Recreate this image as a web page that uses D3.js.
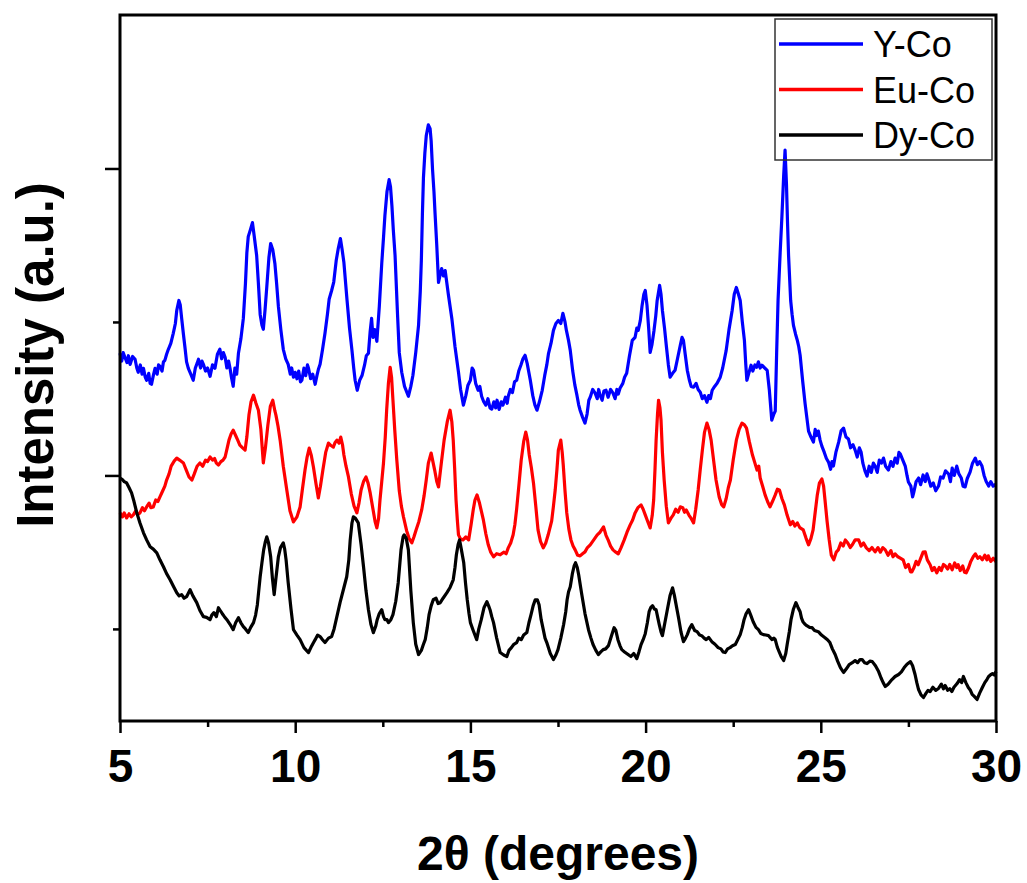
<!DOCTYPE html>
<html>
<head>
<meta charset="utf-8">
<script src="https://cdn.jsdelivr.net/npm/d3@7"></script>
<style>
  body { margin: 0; background: #fff; }
  svg { display: block; font-family: 'Liberation Sans', Arial, sans-serif; }
</style>
</head>
<body>
<div id="root"></div>
<script>
const width = 1027;
const height = 883;

// Data (2θ in degrees, intensity in counts)

const seriesNames = ['Y-Co', 'Eu-Co', 'Dy-Co'];
const colors = ['#0000ff', '#ff0000', '#000000'];

const xMajorTicks = [5, 10, 15, 20, 25, 30];
const xMinorTicks = [7.5, 12.5, 17.5, 22.5, 27.5];
const yMajorTicks = [2000, 4000];
const yMinorTicks = [1000, 3000];

const yCo = [
  [5.00, 2796], [5.05, 2745], [5.09, 2800], [5.14, 2770], [5.20, 2735], [5.24, 2780], [5.29, 2724], [5.36, 2775],
  [5.43, 2757], [5.48, 2700], [5.52, 2672], [5.58, 2720], [5.63, 2660], [5.67, 2698], [5.72, 2640], [5.76, 2620],
  [5.82, 2665], [5.86, 2600], [5.90, 2594], [5.95, 2650], [6.00, 2698], [6.06, 2660], [6.10, 2720], [6.14, 2711],
  [6.20, 2680], [6.24, 2740], [6.28, 2750], [6.33, 2790], [6.38, 2822], [6.45, 2860], [6.52, 2926], [6.58, 2990],
  [6.62, 3075], [6.68, 3140], [6.72, 3110], [6.76, 3023], [6.81, 2920], [6.86, 2822], [6.90, 2740], [6.95, 2698],
  [7.02, 2660], [7.09, 2620], [7.15, 2700], [7.20, 2730], [7.24, 2757], [7.30, 2700], [7.34, 2745], [7.38, 2724],
  [7.44, 2680], [7.50, 2700], [7.57, 2646], [7.64, 2720], [7.71, 2698], [7.78, 2790], [7.85, 2822], [7.90, 2760],
  [7.95, 2800], [8.00, 2770], [8.05, 2700], [8.10, 2745], [8.14, 2698], [8.18, 2640], [8.23, 2581], [8.28, 2700],
  [8.33, 2660], [8.38, 2796], [8.45, 2890], [8.52, 3023], [8.58, 3250], [8.62, 3450], [8.66, 3556], [8.72, 3600],
  [8.78, 3647], [8.83, 3560], [8.90, 3433], [8.95, 3250], [9.00, 3049], [9.05, 2980], [9.09, 2952], [9.14, 3080],
  [9.19, 3231], [9.25, 3420], [9.30, 3511], [9.36, 3470], [9.42, 3381], [9.47, 3250], [9.52, 3101], [9.59, 2950],
  [9.66, 2822], [9.73, 2760], [9.80, 2724], [9.86, 2660], [9.90, 2700], [9.95, 2640], [10.00, 2672], [10.05, 2630],
  [10.10, 2680], [10.15, 2610], [10.19, 2620], [10.25, 2700], [10.30, 2650], [10.35, 2720], [10.38, 2698], [10.44, 2630],
  [10.50, 2660], [10.57, 2594], [10.62, 2650], [10.66, 2690], [10.71, 2724], [10.78, 2820], [10.85, 2926], [10.92, 3050],
  [10.97, 3150], [11.04, 3205], [11.10, 3260], [11.17, 3400], [11.23, 3480], [11.29, 3543], [11.34, 3470], [11.39, 3387],
  [11.48, 3140], [11.55, 2960], [11.62, 2815], [11.67, 2700], [11.71, 2620], [11.77, 2555], [11.84, 2620], [11.91, 2653],
  [11.98, 2720], [12.03, 2780], [12.09, 2796], [12.14, 2940], [12.18, 3023], [12.22, 2900], [12.27, 2950], [12.33, 2874],
  [12.40, 3100], [12.47, 3381], [12.52, 3550], [12.56, 3693], [12.62, 3850], [12.68, 3927], [12.72, 3880], [12.76, 3758],
  [12.80, 3600], [12.85, 3433], [12.92, 3050], [12.97, 2800], [13.04, 2672], [13.12, 2580], [13.23, 2516], [13.30, 2580],
  [13.36, 2653], [13.44, 2800], [13.52, 2978], [13.57, 3200], [13.60, 3400], [13.63, 3700], [13.66, 3940], [13.70, 4100],
  [13.74, 4213], [13.80, 4284], [13.85, 4260], [13.88, 4180], [13.92, 3992], [13.96, 3850], [13.99, 3712], [14.04, 3500],
  [14.09, 3257], [14.13, 3300], [14.18, 3348], [14.23, 3300], [14.28, 3335], [14.37, 3180], [14.47, 3023], [14.56, 2840],
  [14.66, 2672], [14.72, 2560], [14.80, 2458], [14.87, 2520], [14.93, 2588], [15.00, 2620], [15.05, 2700], [15.09, 2685],
  [15.15, 2600], [15.22, 2555], [15.27, 2580], [15.32, 2516], [15.38, 2480], [15.44, 2458], [15.50, 2500], [15.56, 2440],
  [15.61, 2432], [15.67, 2480], [15.72, 2440], [15.76, 2490], [15.82, 2430], [15.88, 2480], [15.93, 2458], [16.00, 2510],
  [16.05, 2470], [16.08, 2516], [16.14, 2560], [16.20, 2540], [16.26, 2610], [16.32, 2620], [16.38, 2680], [16.44, 2718],
  [16.50, 2760], [16.56, 2783], [16.62, 2730], [16.71, 2620], [16.78, 2520], [16.84, 2460], [16.90, 2425], [16.97, 2480],
  [17.05, 2555], [17.12, 2650], [17.18, 2720], [17.23, 2796], [17.30, 2860], [17.37, 2945], [17.44, 2990], [17.51, 3010],
  [17.58, 2990], [17.64, 3056], [17.70, 3000], [17.74, 2945], [17.80, 2880], [17.85, 2815], [17.92, 2680], [17.98, 2590],
  [18.04, 2523], [18.09, 2460], [18.13, 2425], [18.20, 2380], [18.27, 2341], [18.33, 2400], [18.38, 2490], [18.42, 2510],
  [18.49, 2560], [18.56, 2536], [18.62, 2500], [18.66, 2560], [18.70, 2523], [18.76, 2490], [18.81, 2550], [18.87, 2555],
  [18.93, 2510], [19.00, 2560], [19.07, 2536], [19.13, 2500], [19.18, 2560], [19.22, 2530], [19.27, 2568], [19.35, 2600],
  [19.40, 2640], [19.46, 2666], [19.54, 2780], [19.62, 2880], [19.70, 2900], [19.75, 2960], [19.79, 2945], [19.85, 3010],
  [19.90, 3108], [19.95, 3180], [19.99, 3205], [20.04, 3108], [20.09, 2950], [20.13, 2802], [20.18, 2850], [20.24, 2945],
  [20.29, 3040], [20.33, 3140], [20.40, 3238], [20.44, 3180], [20.48, 3075], [20.54, 2960], [20.59, 2848], [20.65, 2720],
  [20.70, 2640], [20.77, 2665], [20.84, 2685], [20.91, 2760], [20.99, 2848], [21.04, 2900], [21.08, 2880], [21.13, 2790],
  [21.19, 2685], [21.25, 2620], [21.30, 2580], [21.37, 2575], [21.44, 2600], [21.50, 2560], [21.56, 2542], [21.62, 2500],
  [21.68, 2520], [21.75, 2477], [21.80, 2520], [21.85, 2500], [21.90, 2555], [21.97, 2580], [22.04, 2600], [22.13, 2640],
  [22.20, 2700], [22.30, 2815], [22.38, 2950], [22.47, 3075], [22.53, 3180], [22.59, 3225], [22.65, 3180], [22.70, 3140],
  [22.76, 3000], [22.82, 2880], [22.86, 2720], [22.89, 2620], [22.95, 2670], [23.01, 2718], [23.06, 2680], [23.12, 2720],
  [23.17, 2705], [23.22, 2740], [23.27, 2700], [23.32, 2718], [23.40, 2700], [23.47, 2685], [23.53, 2560], [23.60, 2360],
  [23.66, 2400], [23.70, 2419], [23.74, 2800], [23.78, 3140], [23.84, 3450], [23.89, 3686], [23.94, 3950], [23.98, 4120],
  [24.02, 3900], [24.05, 3650], [24.08, 3433], [24.14, 3140], [24.18, 3050], [24.22, 2978], [24.28, 2920], [24.33, 2880],
  [24.37, 2840], [24.41, 2783], [24.48, 2620], [24.55, 2471], [24.60, 2380], [24.65, 2289], [24.72, 2250], [24.79, 2217],
  [24.84, 2300], [24.88, 2260], [24.93, 2289], [24.98, 2230], [25.03, 2191], [25.10, 2150], [25.16, 2110], [25.22, 2087],
  [25.28, 2040], [25.32, 2090], [25.36, 2061], [25.43, 2150], [25.51, 2217], [25.58, 2290], [25.65, 2308], [25.72, 2250],
  [25.79, 2237], [25.85, 2180], [25.92, 2200], [25.98, 2165], [26.04, 2120], [26.10, 2180], [26.15, 2152], [26.20, 2080],
  [26.26, 2030], [26.32, 1996], [26.38, 2060], [26.44, 2020], [26.50, 2080], [26.55, 2061], [26.61, 2020], [26.67, 2100],
  [26.73, 2080], [26.79, 2113], [26.85, 2060], [26.93, 2035], [27.00, 2090], [27.06, 2060], [27.12, 2113], [27.18, 2080],
  [27.23, 2150], [27.27, 2139], [27.34, 2100], [27.41, 2061], [27.46, 2000], [27.50, 1957], [27.57, 1930], [27.62, 1860],
  [27.65, 1886], [27.72, 1960], [27.79, 1983], [27.85, 1940], [27.92, 2003], [27.98, 1960], [28.03, 2010], [28.07, 1983],
  [28.14, 1930], [28.21, 1951], [28.28, 1900], [28.36, 1931], [28.42, 1990], [28.49, 1983], [28.56, 2030], [28.65, 2009],
  [28.70, 1960], [28.75, 2048], [28.81, 2000], [28.88, 2061], [28.94, 2010], [29.01, 1983], [29.06, 1930], [29.12, 1925],
  [29.18, 1980], [29.26, 2022], [29.33, 2080], [29.41, 2113], [29.47, 2070], [29.53, 2090], [29.60, 2061], [29.66, 2000],
  [29.72, 1960], [29.79, 1931], [29.85, 1960], [29.92, 1930], [30.00, 1944],
];

const euCo = [
  [5.00, 1756], [5.07, 1730], [5.12, 1755], [5.19, 1723], [5.26, 1750], [5.32, 1730], [5.38, 1743], [5.45, 1770],
  [5.50, 1745], [5.57, 1756], [5.64, 1790], [5.70, 1770], [5.76, 1795], [5.83, 1820], [5.88, 1790], [5.95, 1795],
  [6.02, 1840], [6.08, 1830], [6.14, 1860], [6.22, 1900], [6.28, 1930], [6.33, 1970], [6.40, 2010], [6.46, 2061],
  [6.55, 2095], [6.62, 2113], [6.70, 2100], [6.81, 2081], [6.90, 2030], [6.97, 1990], [7.05, 1970], [7.12, 2010],
  [7.20, 2060], [7.28, 2081], [7.36, 2060], [7.44, 2100], [7.50, 2090], [7.57, 2120], [7.64, 2100], [7.70, 2110],
  [7.75, 2080], [7.81, 2068], [7.88, 2090], [7.94, 2100], [8.00, 2120], [8.06, 2180], [8.11, 2230], [8.17, 2270],
  [8.23, 2295], [8.30, 2260], [8.36, 2230], [8.42, 2198], [8.50, 2180], [8.57, 2165], [8.62, 2250], [8.68, 2393],
  [8.74, 2480], [8.81, 2523], [8.88, 2470], [8.95, 2425], [9.02, 2300], [9.09, 2081], [9.15, 2180], [9.22, 2328],
  [9.29, 2450], [9.36, 2490], [9.42, 2420], [9.45, 2393], [9.51, 2320], [9.57, 2230], [9.66, 2060], [9.76, 1905],
  [9.85, 1770], [9.95, 1697], [10.05, 1730], [10.14, 1795], [10.20, 1900], [10.28, 2035], [10.34, 2120], [10.40, 2178],
  [10.46, 2130], [10.52, 2055], [10.59, 1950], [10.66, 1853], [10.72, 1930], [10.79, 2035], [10.87, 2150], [10.95, 2211],
  [11.02, 2195], [11.09, 2185], [11.14, 2215], [11.19, 2230], [11.25, 2210], [11.30, 2250], [11.35, 2200], [11.39, 2133],
  [11.45, 2060], [11.52, 1990], [11.60, 1880], [11.68, 1800], [11.76, 1756], [11.82, 1820], [11.88, 1905], [11.95, 1960],
  [12.02, 1990], [12.08, 1950], [12.14, 1886], [12.22, 1780], [12.28, 1700], [12.33, 1658], [12.38, 1720], [12.42, 1840],
  [12.47, 1960], [12.52, 2081], [12.57, 2250], [12.61, 2425], [12.66, 2600], [12.71, 2705], [12.75, 2640], [12.79, 2490],
  [12.84, 2300], [12.90, 2100], [12.97, 1900], [13.03, 1800], [13.09, 1730], [13.18, 1640], [13.25, 1590], [13.33, 1561],
  [13.39, 1600], [13.45, 1645], [13.53, 1700], [13.61, 1775], [13.68, 1870], [13.74, 1970], [13.80, 2080], [13.88, 2146],
  [13.93, 2090], [13.98, 2035], [14.04, 1960], [14.09, 1925], [14.17, 2080], [14.25, 2230], [14.34, 2350], [14.42, 2425],
  [14.47, 2350], [14.51, 2230], [14.55, 2050], [14.59, 1840], [14.63, 1700], [14.66, 1613], [14.72, 1585], [14.79, 1580],
  [14.87, 1600], [14.95, 1580], [15.02, 1680], [15.08, 1775], [15.13, 1840], [15.19, 1873], [15.26, 1820], [15.37, 1710],
  [15.44, 1620], [15.51, 1548], [15.58, 1500], [15.66, 1470], [15.75, 1490], [15.85, 1483], [15.95, 1500], [16.02, 1490],
  [16.08, 1528], [16.15, 1560], [16.22, 1613], [16.27, 1680], [16.32, 1782], [16.39, 1950], [16.45, 2100], [16.52, 2220],
  [16.58, 2282], [16.63, 2230], [16.68, 2133], [16.74, 2050], [16.80, 1951], [16.87, 1790], [16.93, 1645], [17.00, 1570],
  [17.08, 1528], [17.15, 1560], [17.22, 1613], [17.32, 1704], [17.37, 1800], [17.42, 1905], [17.47, 2040], [17.51, 2165],
  [17.58, 2230], [17.62, 2150], [17.65, 2068], [17.70, 1900], [17.75, 1756], [17.81, 1650], [17.87, 1580], [17.93, 1540],
  [17.99, 1515], [18.06, 1480], [18.13, 1476], [18.20, 1490], [18.27, 1502], [18.34, 1530], [18.42, 1548], [18.52, 1580],
  [18.62, 1613], [18.70, 1630], [18.80, 1665], [18.87, 1610], [18.93, 1580], [19.00, 1540], [19.07, 1515], [19.15, 1500],
  [19.22, 1489], [19.30, 1530], [19.39, 1580], [19.47, 1630], [19.56, 1678], [19.63, 1710], [19.70, 1756], [19.78, 1790],
  [19.87, 1808], [19.93, 1780], [19.99, 1743], [20.06, 1700], [20.13, 1658], [20.19, 1740], [20.23, 1840], [20.27, 2050],
  [20.30, 2230], [20.34, 2400], [20.37, 2490], [20.41, 2440], [20.44, 2360], [20.48, 2150], [20.53, 1970], [20.59, 1800],
  [20.65, 1691], [20.72, 1720], [20.79, 1743], [20.86, 1780], [20.93, 1760], [20.99, 1795], [21.06, 1790], [21.11, 1760],
  [21.16, 1775], [21.24, 1740], [21.30, 1720], [21.37, 1691], [21.43, 1780], [21.50, 1905], [21.56, 2040], [21.62, 2165],
  [21.68, 2280], [21.75, 2341], [21.81, 2300], [21.87, 2230], [21.94, 2100], [22.01, 1970], [22.10, 1860], [22.17, 1810],
  [22.23, 1795], [22.30, 1850], [22.36, 1920], [22.42, 1970], [22.50, 2100], [22.59, 2230], [22.67, 2300], [22.75, 2341],
  [22.82, 2330], [22.88, 2308], [22.96, 2220], [23.05, 2133], [23.12, 2080], [23.18, 2035], [23.23, 2060], [23.27, 1983],
  [23.34, 1930], [23.41, 1873], [23.48, 1830], [23.55, 1795], [23.62, 1830], [23.70, 1873], [23.76, 1910], [23.82, 1905],
  [23.89, 1850], [23.96, 1808], [24.04, 1740], [24.13, 1678], [24.20, 1700], [24.26, 1670], [24.33, 1691], [24.40, 1660],
  [24.50, 1645], [24.58, 1590], [24.65, 1548], [24.72, 1590], [24.78, 1645], [24.84, 1760], [24.90, 1873], [24.96, 1950],
  [25.03, 1977], [25.08, 1930], [25.12, 1840], [25.18, 1700], [25.24, 1580], [25.30, 1480], [25.37, 1450], [25.44, 1500],
  [25.50, 1515], [25.57, 1560], [25.64, 1540], [25.70, 1580], [25.77, 1560], [25.84, 1530], [25.90, 1548], [25.98, 1580],
  [26.08, 1580], [26.15, 1540], [26.22, 1560], [26.30, 1528], [26.38, 1510], [26.46, 1530], [26.55, 1502], [26.63, 1530],
  [26.70, 1500], [26.77, 1530], [26.84, 1515], [26.92, 1480], [27.00, 1510], [27.06, 1470], [27.12, 1489], [27.20, 1470],
  [27.28, 1460], [27.35, 1450], [27.42, 1400], [27.50, 1420], [27.56, 1372], [27.60, 1372], [27.66, 1400], [27.72, 1440],
  [27.78, 1418], [27.85, 1460], [27.92, 1500], [27.98, 1502], [28.04, 1450], [28.12, 1418], [28.18, 1380], [28.24, 1400],
  [28.31, 1366], [28.38, 1400], [28.44, 1380], [28.50, 1420], [28.55, 1411], [28.62, 1390], [28.68, 1420], [28.75, 1385],
  [28.82, 1430], [28.88, 1400], [28.92, 1418], [28.98, 1380], [29.05, 1410], [29.10, 1370], [29.15, 1366], [29.22, 1400],
  [29.28, 1440], [29.35, 1470], [29.41, 1489], [29.48, 1460], [29.54, 1470], [29.61, 1450], [29.68, 1480], [29.74, 1450],
  [29.78, 1476], [29.85, 1440], [29.92, 1460], [30.00, 1437],
];

const dyCo = [
  [5.00, 1983], [5.06, 1975], [5.12, 1960], [5.19, 1951], [5.26, 1920], [5.33, 1886], [5.40, 1830], [5.48, 1756],
  [5.57, 1690], [5.67, 1626], [5.76, 1580], [5.86, 1535], [5.95, 1520], [6.05, 1496], [6.14, 1450], [6.24, 1405],
  [6.33, 1360], [6.43, 1320], [6.52, 1280], [6.62, 1236], [6.69, 1215], [6.76, 1223], [6.83, 1200], [6.90, 1210],
  [7.00, 1255], [7.08, 1215], [7.19, 1171], [7.28, 1120], [7.38, 1080], [7.47, 1075], [7.57, 1060], [7.62, 1090],
  [7.68, 1106], [7.75, 1080], [7.81, 1138], [7.86, 1120], [7.92, 1099], [7.98, 1080], [8.05, 1060], [8.14, 1030],
  [8.23, 995], [8.30, 1040], [8.38, 1073], [8.45, 1040], [8.52, 1015], [8.58, 1000], [8.66, 976], [8.73, 1010],
  [8.81, 1041], [8.87, 1090], [8.92, 1158], [8.96, 1250], [9.00, 1340], [9.05, 1430], [9.10, 1515], [9.15, 1570],
  [9.19, 1600], [9.24, 1560], [9.30, 1470], [9.35, 1330], [9.40, 1223], [9.45, 1330], [9.52, 1470], [9.58, 1530],
  [9.66, 1561], [9.70, 1520], [9.74, 1450], [9.80, 1301], [9.88, 1130], [9.95, 995], [10.05, 960], [10.14, 930],
  [10.25, 878], [10.32, 860], [10.38, 846], [10.45, 880], [10.52, 910], [10.57, 930], [10.64, 960], [10.71, 950],
  [10.78, 930], [10.85, 911], [10.95, 940], [11.04, 950], [11.11, 1000], [11.17, 1060], [11.28, 1171], [11.38, 1260],
  [11.47, 1340], [11.53, 1450], [11.57, 1580], [11.62, 1690], [11.66, 1730], [11.72, 1720], [11.80, 1691], [11.88, 1550],
  [11.95, 1405], [12.02, 1250], [12.09, 1125], [12.16, 1030], [12.23, 976], [12.30, 1020], [12.34, 1060], [12.40, 1100],
  [12.47, 1125], [12.52, 1080], [12.56, 1060], [12.62, 1060], [12.66, 1041], [12.73, 1060], [12.79, 1093], [12.87, 1180],
  [12.94, 1301], [13.02, 1515], [13.08, 1600], [13.11, 1613], [13.17, 1590], [13.23, 1515], [13.30, 1250], [13.37, 1041],
  [13.44, 900], [13.52, 833], [13.60, 860], [13.66, 900], [13.71, 930], [13.77, 1010], [13.82, 1093], [13.88, 1150],
  [13.94, 1190], [14.02, 1200], [14.08, 1165], [14.14, 1171], [14.22, 1200], [14.33, 1236], [14.42, 1270], [14.51, 1320],
  [14.56, 1400], [14.60, 1483], [14.65, 1550], [14.69, 1580], [14.74, 1520], [14.81, 1431], [14.86, 1300], [14.91, 1190],
  [14.96, 1100], [15.00, 1041], [15.08, 990], [15.18, 930], [15.24, 1000], [15.31, 1060], [15.39, 1140], [15.47, 1177],
  [15.52, 1150], [15.56, 1125], [15.61, 1080], [15.66, 1041], [15.75, 940], [15.85, 846], [15.95, 830], [16.04, 820],
  [16.10, 860], [16.17, 878], [16.24, 900], [16.32, 911], [16.38, 940], [16.45, 930], [16.52, 960], [16.61, 976],
  [16.67, 1040], [16.73, 1093], [16.79, 1150], [16.85, 1190], [16.91, 1190], [16.96, 1158], [17.02, 1060], [17.08, 995],
  [17.13, 940], [17.18, 911], [17.28, 840], [17.37, 800], [17.44, 830], [17.50, 865], [17.58, 940], [17.66, 1028],
  [17.72, 1110], [17.76, 1190], [17.80, 1240], [17.85, 1275], [17.91, 1360], [17.96, 1410], [18.00, 1431], [18.05, 1400],
  [18.09, 1353], [18.14, 1280], [18.18, 1223], [18.27, 1100], [18.37, 995], [18.44, 940], [18.50, 898], [18.58, 860],
  [18.65, 833], [18.72, 850], [18.79, 865], [18.86, 870], [18.94, 891], [19.02, 950], [19.10, 1008], [19.15, 990],
  [19.21, 930], [19.27, 890], [19.32, 865], [19.40, 850], [19.50, 833], [19.58, 820], [19.66, 840], [19.75, 807],
  [19.81, 850], [19.87, 898], [19.93, 930], [19.99, 969], [20.05, 1040], [20.10, 1112], [20.15, 1140], [20.20, 1151],
  [20.25, 1130], [20.30, 1125], [20.35, 1070], [20.39, 1028], [20.44, 980], [20.48, 956], [20.55, 1040], [20.62, 1125],
  [20.70, 1220], [20.77, 1268], [20.82, 1220], [20.87, 1158], [20.94, 1073], [21.01, 980], [21.08, 917], [21.14, 940],
  [21.19, 963], [21.25, 1000], [21.32, 1028], [21.40, 990], [21.47, 982], [21.54, 960], [21.60, 956], [21.67, 940],
  [21.73, 930], [21.80, 945], [21.89, 917], [21.98, 900], [22.07, 878], [22.15, 870], [22.21, 850], [22.27, 846],
  [22.34, 870], [22.41, 878], [22.48, 890], [22.56, 898], [22.63, 930], [22.70, 963], [22.76, 1010], [22.81, 1060],
  [22.87, 1100], [22.94, 1125], [23.00, 1090], [23.07, 1047], [23.15, 1010], [23.22, 995], [23.29, 970], [23.36, 963],
  [23.43, 960], [23.51, 956], [23.57, 940], [23.61, 930], [23.66, 940], [23.70, 930], [23.76, 880], [23.81, 852],
  [23.87, 820], [23.94, 794], [24.00, 840], [24.04, 898], [24.10, 980], [24.15, 1060], [24.22, 1130], [24.29, 1171],
  [24.35, 1140], [24.41, 1112], [24.45, 1070], [24.49, 1047], [24.55, 1030], [24.60, 1021], [24.68, 1010], [24.75, 1008],
  [24.82, 990], [24.93, 982], [25.02, 960], [25.12, 943], [25.19, 930], [25.26, 911], [25.33, 870], [25.41, 833],
  [25.48, 790], [25.56, 748], [25.65, 716], [25.73, 740], [25.81, 768], [25.90, 780], [25.98, 794], [26.05, 780],
  [26.12, 800], [26.18, 800], [26.25, 780], [26.32, 774], [26.40, 790], [26.47, 787], [26.56, 760], [26.65, 722],
  [26.72, 680], [26.78, 650], [26.84, 625], [26.92, 640], [27.03, 670], [27.12, 690], [27.22, 703], [27.30, 720],
  [27.38, 748], [27.46, 770], [27.56, 787], [27.62, 760], [27.69, 703], [27.74, 650], [27.79, 605], [27.86, 570],
  [27.93, 553], [28.00, 580], [28.06, 600], [28.12, 592], [28.20, 620], [28.28, 600], [28.36, 612], [28.44, 640],
  [28.50, 610], [28.55, 631], [28.62, 600], [28.68, 610], [28.74, 592], [28.80, 620], [28.89, 644], [28.96, 670],
  [29.02, 650], [29.07, 690], [29.14, 650], [29.21, 618], [29.27, 600], [29.32, 573], [29.38, 560], [29.46, 540],
  [29.53, 580], [29.61, 618], [29.68, 650], [29.74, 670], [29.79, 690], [29.84, 700], [29.90, 709], [29.95, 700],
  [30.00, 722],
];

const series = [yCo, euCo, dyCo];

// Scales

const x = d3.scaleLinear().domain([5, 30]).range([120, 996]);
const y = d3.scaleLinear().domain([400, 5000]).range([721, 15]);

// Main canvas

const svg = d3
  .select('#root')
  .append('svg')
  .attr('width', width)
  .attr('height', height);

svg.append('rect').attr('width', width).attr('height', height).attr('fill', '#fff');

// Traces (Dy-Co drawn last so it sits on top)

const line = d3
  .line()
  .x((d) => x(d[0]))
  .y((d) => y(d[1]));

svg
  .append('g')
  .selectAll('path')
  .data(series.map((s, i) => ({ s, i })))
  .join('path')
  .attr('d', (d) => line(d.s))
  .attr('fill', 'none')
  .attr('stroke', (d) => colors[d.i])
  .attr('stroke-width', 3.2)
  .attr('stroke-linejoin', 'round');

// Axes

function styleAxis(g) {
  g.select('.domain').remove();
  g.selectAll('.tick line').attr('stroke', '#000').attr('stroke-width', 2.5);
  g.selectAll('.tick text')
    .attr('fill', '#000')
    .style('font-size', '46px')
    .style('font-weight', 'bold')
    .style('font-family', "'Liberation Sans', Arial, sans-serif");
}

svg
  .append('g')
  .attr('transform', 'translate(0,721)')
  .call(d3.axisBottom(x).tickValues(xMajorTicks).tickSize(12).tickPadding(16).tickFormat(d3.format('d')))
  .call(styleAxis);

svg
  .append('g')
  .attr('transform', 'translate(0,721)')
  .call(d3.axisBottom(x).tickValues(xMinorTicks).tickSize(6).tickFormat(''))
  .call(styleAxis);

svg
  .append('g')
  .attr('transform', 'translate(120,0)')
  .call(d3.axisLeft(y).tickValues(yMajorTicks).tickSize(15).tickFormat(''))
  .call(styleAxis);

svg
  .append('g')
  .attr('transform', 'translate(120,0)')
  .call(d3.axisLeft(y).tickValues(yMinorTicks).tickSize(7).tickFormat(''))
  .call(styleAxis);

// Frame

svg
  .append('rect')
  .attr('x', x(5))
  .attr('y', y(5000))
  .attr('width', x(30) - x(5))
  .attr('height', y(400) - y(5000))
  .attr('fill', 'none')
  .attr('stroke', '#000')
  .attr('stroke-width', 3);

// Axis titles

svg
  .append('text')
  .attr('x', 558)
  .attr('y', 870)
  .attr('text-anchor', 'middle')
  .style('font-size', '48px')
  .style('font-weight', 'bold')
  .text('2θ (degrees)');

svg
  .append('text')
  .attr('transform', 'translate(53,355) rotate(-90)')
  .attr('text-anchor', 'middle')
  .style('font-size', '51px')
  .style('font-weight', 'bold')
  .text('Intensity (a.u.)');

// Legend

const legend = svg.append('g').attr('transform', 'translate(775,19)');

legend
  .append('rect')
  .attr('width', 217)
  .attr('height', 141)
  .attr('fill', 'none')
  .attr('stroke', '#333')
  .attr('stroke-width', 1.5);

const item = legend
  .selectAll('g.item')
  .data(seriesNames)
  .join('g')
  .attr('class', 'item')
  .attr('transform', (d, i) => `translate(0,${25 + 45.5 * i})`);

item
  .append('line')
  .attr('x1', 4)
  .attr('x2', 88)
  .attr('stroke', (d, i) => colors[i])
  .attr('stroke-width', 3.5);

item
  .append('text')
  .attr('x', 98)
  .attr('y', 13)
  .style('font-size', '36px')
  .text((d) => d);
</script>
</body>
</html>
